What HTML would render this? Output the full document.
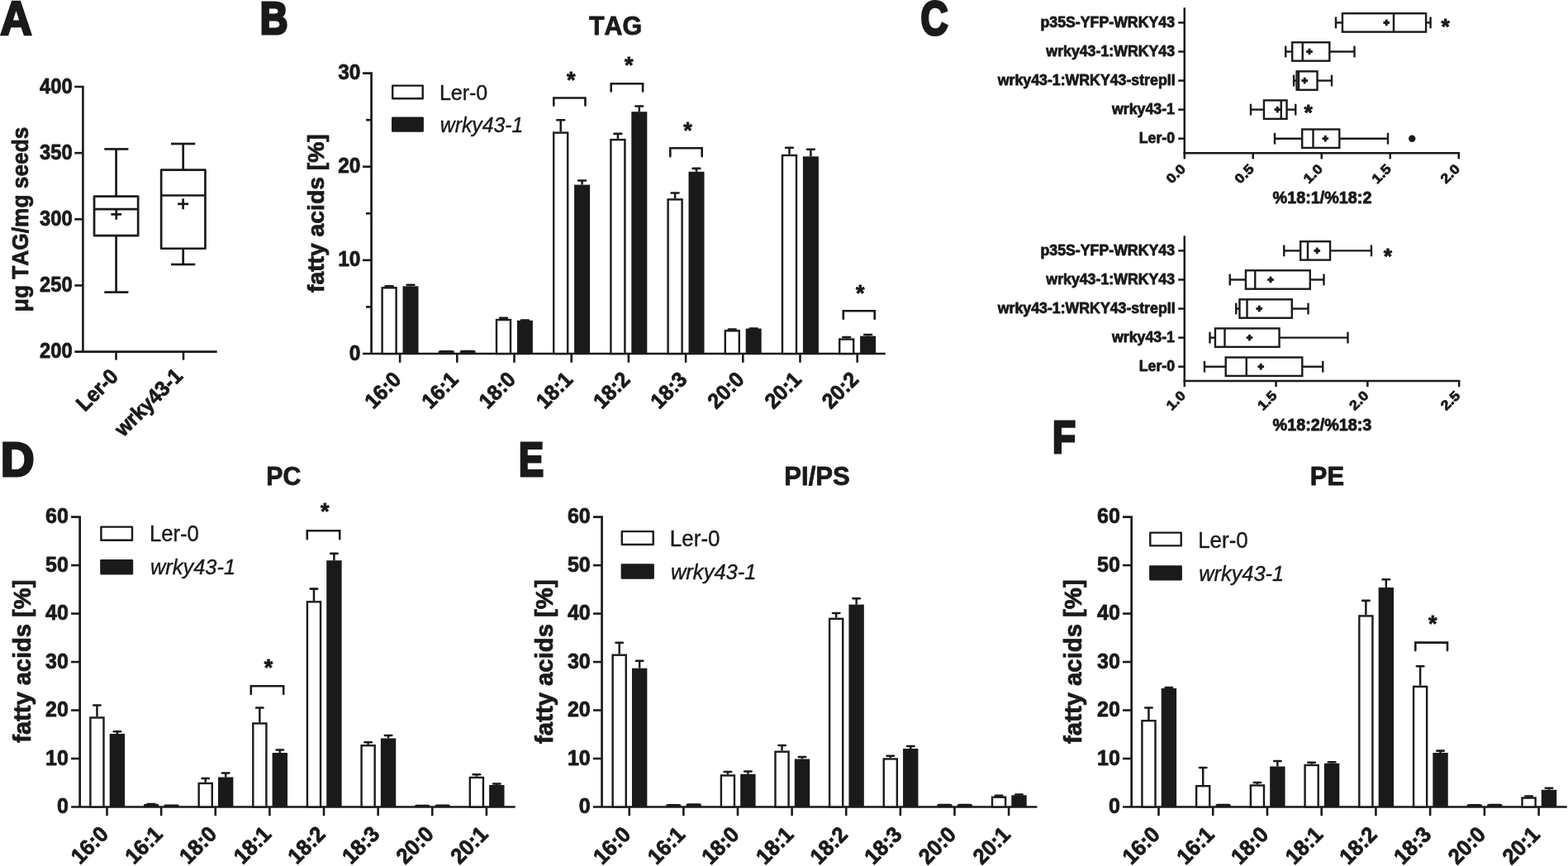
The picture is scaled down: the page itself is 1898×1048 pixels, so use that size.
<!DOCTYPE html>
<html><head><meta charset="utf-8"><title>Figure</title>
<style>html,body{margin:0;padding:0;background:#fff;}svg{display:block;}</style>
</head><body>
<svg width="1898" height="1048" viewBox="0 0 1898 1048" fill="#1a1a1a" stroke="#1a1a1a">
<g stroke="#1a1a1a" stroke-width="0.8" stroke-linejoin="round" font-family="'Liberation Sans', sans-serif" font-weight="bold" style="font-kerning:none">
<text x="0.17" y="42.3" font-size="57.7" textLength="38.54" lengthAdjust="spacingAndGlyphs" stroke-width="2.6" stroke-linejoin="miter">A</text>
<text x="314.67" y="41.1" font-size="56.4" textLength="33.75" lengthAdjust="spacingAndGlyphs" stroke-width="3.2" stroke-linejoin="miter">B</text>
<text x="1114.52" y="41.94" font-size="57.34" textLength="33.03" lengthAdjust="spacingAndGlyphs" stroke-width="3.2" stroke-linejoin="miter">C</text>
<text x="0.96" y="576.2" font-size="56.69" textLength="40.39" lengthAdjust="spacingAndGlyphs" stroke-width="3.2" stroke-linejoin="miter">D</text>
<text x="628.08" y="576.4" font-size="57.12" textLength="30.08" lengthAdjust="spacingAndGlyphs" stroke-width="3.2" stroke-linejoin="miter">E</text>
<text x="1274.03" y="548.4" font-size="56.4" textLength="28.05" lengthAdjust="spacingAndGlyphs" stroke-width="3.2" stroke-linejoin="miter">F</text>
<text x="48.02" y="112.5" font-size="25.3" textLength="39.55" lengthAdjust="spacingAndGlyphs">400</text>
<text x="48.02" y="192.65" font-size="25.3" textLength="39.55" lengthAdjust="spacingAndGlyphs">350</text>
<text x="48.02" y="272.8" font-size="25.3" textLength="39.55" lengthAdjust="spacingAndGlyphs">300</text>
<text x="48.02" y="352.95" font-size="25.3" textLength="39.55" lengthAdjust="spacingAndGlyphs">250</text>
<text x="48.02" y="433.1" font-size="25.3" textLength="39.55" lengthAdjust="spacingAndGlyphs">200</text>
<text x="0" y="0" font-size="28.2" textLength="223.53" lengthAdjust="spacingAndGlyphs" transform="translate(34,377.15) rotate(-90)">μg TAG/mg seeds</text>
<text x="0" y="0" font-size="25.8" textLength="59.11" lengthAdjust="spacingAndGlyphs" transform="translate(102.72,499.04) rotate(-45)">Ler-0</text>
<text x="0" y="0" font-size="25.8" textLength="103.49" lengthAdjust="spacingAndGlyphs" transform="translate(149.31,529.62) rotate(-45)">wrky43-1</text>
<text x="685.92" y="105.95" font-size="27" textLength="10.51" lengthAdjust="spacingAndGlyphs">*</text>
<text x="755.97" y="88.25" font-size="27" textLength="10.51" lengthAdjust="spacingAndGlyphs">*</text>
<text x="827.22" y="166.95" font-size="27" textLength="10.51" lengthAdjust="spacingAndGlyphs">*</text>
<text x="1035.97" y="364.05" font-size="27" textLength="10.51" lengthAdjust="spacingAndGlyphs">*</text>
<text x="712.96" y="42.39" font-size="31.5" textLength="64.13" lengthAdjust="spacingAndGlyphs">TAG</text>
<text x="422.82" y="435.61" font-size="25.6" textLength="13.58" lengthAdjust="spacingAndGlyphs">0</text>
<text x="409.24" y="322.47" font-size="25.6" textLength="27.17" lengthAdjust="spacingAndGlyphs">10</text>
<text x="409.24" y="209.34" font-size="25.6" textLength="27.17" lengthAdjust="spacingAndGlyphs">20</text>
<text x="409.24" y="96.21" font-size="25.6" textLength="27.17" lengthAdjust="spacingAndGlyphs">30</text>
<text x="0" y="0" font-size="28.1" textLength="191.77" lengthAdjust="spacingAndGlyphs" transform="translate(391.5,353.98) rotate(-90)">fatty acids [%]</text>
<text x="531.95" y="120.55" font-size="25.42" textLength="58.33" lengthAdjust="spacingAndGlyphs" font-weight="normal" stroke-width="0.4">Ler-0</text>
<text x="532.76" y="159.77" font-size="25.21" textLength="100.63" lengthAdjust="spacingAndGlyphs" font-weight="normal" stroke-width="0.4" font-style="italic">wrky43-1</text>
<text x="0" y="0" font-size="25.8" textLength="49.83" lengthAdjust="spacingAndGlyphs" transform="translate(451.91,496.06) rotate(-45)">16:0</text>
<text x="0" y="0" font-size="25.8" textLength="49.83" lengthAdjust="spacingAndGlyphs" transform="translate(521.11,496.06) rotate(-45)">16:1</text>
<text x="0" y="0" font-size="25.8" textLength="49.83" lengthAdjust="spacingAndGlyphs" transform="translate(590.31,496.06) rotate(-45)">18:0</text>
<text x="0" y="0" font-size="25.8" textLength="49.83" lengthAdjust="spacingAndGlyphs" transform="translate(659.51,496.06) rotate(-45)">18:1</text>
<text x="0" y="0" font-size="25.8" textLength="49.83" lengthAdjust="spacingAndGlyphs" transform="translate(728.71,496.06) rotate(-45)">18:2</text>
<text x="0" y="0" font-size="25.8" textLength="49.83" lengthAdjust="spacingAndGlyphs" transform="translate(797.91,496.06) rotate(-45)">18:3</text>
<text x="0" y="0" font-size="25.8" textLength="49.83" lengthAdjust="spacingAndGlyphs" transform="translate(867.11,496.06) rotate(-45)">20:0</text>
<text x="0" y="0" font-size="25.8" textLength="49.83" lengthAdjust="spacingAndGlyphs" transform="translate(936.31,496.06) rotate(-45)">20:1</text>
<text x="0" y="0" font-size="25.8" textLength="49.83" lengthAdjust="spacingAndGlyphs" transform="translate(1005.51,496.06) rotate(-45)">20:2</text>
<text x="1259.48" y="32.6" font-size="18" textLength="162.56" lengthAdjust="spacingAndGlyphs">p35S-YFP-WRKY43</text>
<text x="1266.35" y="67.68" font-size="18" textLength="155.69" lengthAdjust="spacingAndGlyphs">wrky43-1:WRKY43</text>
<text x="1207.78" y="102.76" font-size="18" textLength="214.8" lengthAdjust="spacingAndGlyphs">wrky43-1:WRKY43-strepII</text>
<text x="1346" y="137.84" font-size="18" textLength="75.9" lengthAdjust="spacingAndGlyphs">wrky43-1</text>
<text x="1378.77" y="172.92" font-size="18" textLength="43.36" lengthAdjust="spacingAndGlyphs">Ler-0</text>
<text x="0" y="0" font-size="16.2" textLength="25.22" lengthAdjust="spacingAndGlyphs" transform="translate(1418.23,223.11) rotate(-45)">0.0</text>
<text x="0" y="0" font-size="16.2" textLength="25.22" lengthAdjust="spacingAndGlyphs" transform="translate(1501.06,223.28) rotate(-45)">0.5</text>
<text x="0" y="0" font-size="16.2" textLength="25.22" lengthAdjust="spacingAndGlyphs" transform="translate(1584.23,223.11) rotate(-45)">1.0</text>
<text x="0" y="0" font-size="16.2" textLength="25.22" lengthAdjust="spacingAndGlyphs" transform="translate(1667.06,223.16) rotate(-45)">1.5</text>
<text x="0" y="0" font-size="16.2" textLength="25.22" lengthAdjust="spacingAndGlyphs" transform="translate(1750.23,223.11) rotate(-45)">2.0</text>
<text x="1540.61" y="246" font-size="19.6" textLength="119.78" lengthAdjust="spacingAndGlyphs">%18:1/%18:2</text>
<text x="1259.48" y="308.6" font-size="18" textLength="162.56" lengthAdjust="spacingAndGlyphs">p35S-YFP-WRKY43</text>
<text x="1266.35" y="343.68" font-size="18" textLength="155.69" lengthAdjust="spacingAndGlyphs">wrky43-1:WRKY43</text>
<text x="1207.78" y="378.76" font-size="18" textLength="214.8" lengthAdjust="spacingAndGlyphs">wrky43-1:WRKY43-strepII</text>
<text x="1346" y="413.84" font-size="18" textLength="75.9" lengthAdjust="spacingAndGlyphs">wrky43-1</text>
<text x="1378.77" y="448.92" font-size="18" textLength="43.36" lengthAdjust="spacingAndGlyphs">Ler-0</text>
<text x="0" y="0" font-size="16.2" textLength="25.22" lengthAdjust="spacingAndGlyphs" transform="translate(1418.23,497.41) rotate(-45)">1.0</text>
<text x="0" y="0" font-size="16.2" textLength="25.22" lengthAdjust="spacingAndGlyphs" transform="translate(1528.86,497.46) rotate(-45)">1.5</text>
<text x="0" y="0" font-size="16.2" textLength="25.22" lengthAdjust="spacingAndGlyphs" transform="translate(1639.83,497.41) rotate(-45)">2.0</text>
<text x="0" y="0" font-size="16.2" textLength="25.22" lengthAdjust="spacingAndGlyphs" transform="translate(1750.46,497.58) rotate(-45)">2.5</text>
<text x="1540.61" y="521.2" font-size="19.6" textLength="119.71" lengthAdjust="spacingAndGlyphs">%18:2/%18:3</text>
<text x="1744.62" y="41.2" font-size="26.5" textLength="10.31" lengthAdjust="spacingAndGlyphs">*</text>
<text x="1578.57" y="145.2" font-size="26.5" textLength="10.31" lengthAdjust="spacingAndGlyphs">*</text>
<text x="1674.82" y="318.5" font-size="26.5" textLength="10.31" lengthAdjust="spacingAndGlyphs">*</text>
<text x="68.91" y="984.28" font-size="26.1" textLength="13.92" lengthAdjust="spacingAndGlyphs">0</text>
<text x="54.99" y="925.8" font-size="26.1" textLength="27.84" lengthAdjust="spacingAndGlyphs">10</text>
<text x="54.99" y="867.31" font-size="26.1" textLength="27.84" lengthAdjust="spacingAndGlyphs">20</text>
<text x="54.99" y="808.83" font-size="26.1" textLength="27.84" lengthAdjust="spacingAndGlyphs">30</text>
<text x="54.99" y="750.35" font-size="26.1" textLength="27.84" lengthAdjust="spacingAndGlyphs">40</text>
<text x="54.99" y="691.86" font-size="26.1" textLength="27.84" lengthAdjust="spacingAndGlyphs">50</text>
<text x="54.99" y="633.38" font-size="26.1" textLength="27.84" lengthAdjust="spacingAndGlyphs">60</text>
<text x="322.28" y="587.4" font-size="31.4" textLength="41.95" lengthAdjust="spacingAndGlyphs">PC</text>
<text x="0" y="0" font-size="28.8" textLength="197.13" lengthAdjust="spacingAndGlyphs" transform="translate(37,898.8) rotate(-90)">fatty acids [%]</text>
<text x="180.89" y="655.34" font-size="27.12" textLength="60.01" lengthAdjust="spacingAndGlyphs" font-weight="normal" stroke-width="0.4">Ler-0</text>
<text x="181.93" y="695.4" font-size="25.53" textLength="103.11" lengthAdjust="spacingAndGlyphs" font-weight="normal" stroke-width="0.4" font-style="italic">wrky43-1</text>
<text x="0" y="0" font-size="26.5" textLength="50.92" lengthAdjust="spacingAndGlyphs" transform="translate(96.74,1046.93) rotate(-45)">16:0</text>
<text x="0" y="0" font-size="26.5" textLength="50.92" lengthAdjust="spacingAndGlyphs" transform="translate(162.37,1046.93) rotate(-45)">16:1</text>
<text x="0" y="0" font-size="26.5" textLength="50.92" lengthAdjust="spacingAndGlyphs" transform="translate(228,1046.93) rotate(-45)">18:0</text>
<text x="0" y="0" font-size="26.5" textLength="50.92" lengthAdjust="spacingAndGlyphs" transform="translate(293.63,1046.93) rotate(-45)">18:1</text>
<text x="0" y="0" font-size="26.5" textLength="50.92" lengthAdjust="spacingAndGlyphs" transform="translate(359.26,1046.93) rotate(-45)">18:2</text>
<text x="0" y="0" font-size="26.5" textLength="50.92" lengthAdjust="spacingAndGlyphs" transform="translate(424.89,1046.93) rotate(-45)">18:3</text>
<text x="0" y="0" font-size="26.5" textLength="50.92" lengthAdjust="spacingAndGlyphs" transform="translate(490.52,1046.93) rotate(-45)">20:0</text>
<text x="0" y="0" font-size="26.5" textLength="50.92" lengthAdjust="spacingAndGlyphs" transform="translate(556.15,1046.93) rotate(-45)">20:1</text>
<text x="319.72" y="817.05" font-size="27" textLength="10.51" lengthAdjust="spacingAndGlyphs">*</text>
<text x="388.12" y="628.45" font-size="27" textLength="10.51" lengthAdjust="spacingAndGlyphs">*</text>
<text x="700.81" y="984.28" font-size="26.1" textLength="13.92" lengthAdjust="spacingAndGlyphs">0</text>
<text x="686.89" y="925.8" font-size="26.1" textLength="27.84" lengthAdjust="spacingAndGlyphs">10</text>
<text x="686.89" y="867.31" font-size="26.1" textLength="27.84" lengthAdjust="spacingAndGlyphs">20</text>
<text x="686.89" y="808.83" font-size="26.1" textLength="27.84" lengthAdjust="spacingAndGlyphs">30</text>
<text x="686.89" y="750.35" font-size="26.1" textLength="27.84" lengthAdjust="spacingAndGlyphs">40</text>
<text x="686.89" y="691.86" font-size="26.1" textLength="27.84" lengthAdjust="spacingAndGlyphs">50</text>
<text x="686.89" y="633.38" font-size="26.1" textLength="27.84" lengthAdjust="spacingAndGlyphs">60</text>
<text x="949.32" y="587.4" font-size="31.4" textLength="79.49" lengthAdjust="spacingAndGlyphs">PI/PS</text>
<text x="0" y="0" font-size="28.8" textLength="198.55" lengthAdjust="spacingAndGlyphs" transform="translate(669.2,899.9) rotate(-90)">fatty acids [%]</text>
<text x="810.87" y="660.63" font-size="27.26" textLength="60.65" lengthAdjust="spacingAndGlyphs" font-weight="normal" stroke-width="0.4">Ler-0</text>
<text x="811.93" y="700.71" font-size="25.96" textLength="103.63" lengthAdjust="spacingAndGlyphs" font-weight="normal" stroke-width="0.4" font-style="italic">wrky43-1</text>
<text x="0" y="0" font-size="26.5" textLength="50.92" lengthAdjust="spacingAndGlyphs" transform="translate(729.09,1047.53) rotate(-45)">16:0</text>
<text x="0" y="0" font-size="26.5" textLength="50.92" lengthAdjust="spacingAndGlyphs" transform="translate(794.71,1047.53) rotate(-45)">16:1</text>
<text x="0" y="0" font-size="26.5" textLength="50.92" lengthAdjust="spacingAndGlyphs" transform="translate(860.33,1047.53) rotate(-45)">18:0</text>
<text x="0" y="0" font-size="26.5" textLength="50.92" lengthAdjust="spacingAndGlyphs" transform="translate(925.95,1047.53) rotate(-45)">18:1</text>
<text x="0" y="0" font-size="26.5" textLength="50.92" lengthAdjust="spacingAndGlyphs" transform="translate(991.57,1047.53) rotate(-45)">18:2</text>
<text x="0" y="0" font-size="26.5" textLength="50.92" lengthAdjust="spacingAndGlyphs" transform="translate(1057.19,1047.53) rotate(-45)">18:3</text>
<text x="0" y="0" font-size="26.5" textLength="50.92" lengthAdjust="spacingAndGlyphs" transform="translate(1122.81,1047.53) rotate(-45)">20:0</text>
<text x="0" y="0" font-size="26.5" textLength="50.92" lengthAdjust="spacingAndGlyphs" transform="translate(1188.43,1047.53) rotate(-45)">20:1</text>
<text x="1341.91" y="984.28" font-size="26.1" textLength="13.92" lengthAdjust="spacingAndGlyphs">0</text>
<text x="1327.99" y="925.8" font-size="26.1" textLength="27.84" lengthAdjust="spacingAndGlyphs">10</text>
<text x="1327.99" y="867.31" font-size="26.1" textLength="27.84" lengthAdjust="spacingAndGlyphs">20</text>
<text x="1327.99" y="808.83" font-size="26.1" textLength="27.84" lengthAdjust="spacingAndGlyphs">30</text>
<text x="1327.99" y="750.35" font-size="26.1" textLength="27.84" lengthAdjust="spacingAndGlyphs">40</text>
<text x="1327.99" y="691.86" font-size="26.1" textLength="27.84" lengthAdjust="spacingAndGlyphs">50</text>
<text x="1327.99" y="633.38" font-size="26.1" textLength="27.84" lengthAdjust="spacingAndGlyphs">60</text>
<text x="1585.83" y="587.4" font-size="31.4" textLength="41.22" lengthAdjust="spacingAndGlyphs">PE</text>
<text x="0" y="0" font-size="28.8" textLength="198.55" lengthAdjust="spacingAndGlyphs" transform="translate(1308.6,899.9) rotate(-90)">fatty acids [%]</text>
<text x="1450.17" y="662.63" font-size="27.54" textLength="60.54" lengthAdjust="spacingAndGlyphs" font-weight="normal" stroke-width="0.4">Ler-0</text>
<text x="1451.24" y="702.71" font-size="25.96" textLength="102.8" lengthAdjust="spacingAndGlyphs" font-weight="normal" stroke-width="0.4" font-style="italic">wrky43-1</text>
<text x="0" y="0" font-size="26.5" textLength="50.92" lengthAdjust="spacingAndGlyphs" transform="translate(1369.44,1047.53) rotate(-45)">16:0</text>
<text x="0" y="0" font-size="26.5" textLength="50.92" lengthAdjust="spacingAndGlyphs" transform="translate(1435.17,1047.53) rotate(-45)">16:1</text>
<text x="0" y="0" font-size="26.5" textLength="50.92" lengthAdjust="spacingAndGlyphs" transform="translate(1500.9,1047.53) rotate(-45)">18:0</text>
<text x="0" y="0" font-size="26.5" textLength="50.92" lengthAdjust="spacingAndGlyphs" transform="translate(1566.63,1047.53) rotate(-45)">18:1</text>
<text x="0" y="0" font-size="26.5" textLength="50.92" lengthAdjust="spacingAndGlyphs" transform="translate(1632.36,1047.53) rotate(-45)">18:2</text>
<text x="0" y="0" font-size="26.5" textLength="50.92" lengthAdjust="spacingAndGlyphs" transform="translate(1698.09,1047.53) rotate(-45)">18:3</text>
<text x="0" y="0" font-size="26.5" textLength="50.92" lengthAdjust="spacingAndGlyphs" transform="translate(1763.82,1047.53) rotate(-45)">20:0</text>
<text x="0" y="0" font-size="26.5" textLength="50.92" lengthAdjust="spacingAndGlyphs" transform="translate(1829.55,1047.53) rotate(-45)">20:1</text>
<text x="1729.12" y="764.45" font-size="27" textLength="10.51" lengthAdjust="spacingAndGlyphs">*</text>
</g>
<g fill="none">
<polyline points="90.3,105 100.4,105 100.4,425.6" stroke-width="2.6" fill="none"/>
<line x1="90.3" y1="185.15" x2="100.4" y2="185.15" stroke-width="2.6"/>
<line x1="90.3" y1="265.3" x2="100.4" y2="265.3" stroke-width="2.6"/>
<line x1="90.3" y1="345.45" x2="100.4" y2="345.45" stroke-width="2.6"/>
<line x1="90.3" y1="425.6" x2="262.7" y2="425.6" stroke-width="2.6"/>
<line x1="140.5" y1="425.6" x2="140.5" y2="435.6" stroke-width="2.6"/>
<line x1="222" y1="425.6" x2="222" y2="435.6" stroke-width="2.6"/>
<line x1="140.6" y1="180.4" x2="140.6" y2="237.6" stroke-width="2.7"/>
<line x1="140.6" y1="285.2" x2="140.6" y2="353.6" stroke-width="2.7"/>
<line x1="126.3" y1="180.4" x2="155.4" y2="180.4" stroke-width="2.7"/>
<line x1="126.3" y1="353.6" x2="155.4" y2="353.6" stroke-width="2.7"/>
<rect x="114.05" y="237.6" width="53.1" height="47.6" stroke-width="2.7" fill="none" stroke-linejoin="round"/>
<line x1="114.05" y1="253.05" x2="167.15" y2="253.05" stroke-width="2.7"/>
<line x1="134.4" y1="259.4" x2="147.1" y2="259.4" stroke-width="2.7"/>
<line x1="140.75" y1="253.05" x2="140.75" y2="265.75" stroke-width="2.7"/>
<line x1="221.7" y1="174" x2="221.7" y2="205.7" stroke-width="2.7"/>
<line x1="221.7" y1="300.75" x2="221.7" y2="320" stroke-width="2.7"/>
<line x1="207" y1="174" x2="236.3" y2="174" stroke-width="2.7"/>
<line x1="207" y1="320" x2="236.3" y2="320" stroke-width="2.7"/>
<rect x="195.15" y="205.7" width="53.3" height="95.05" stroke-width="2.7" fill="none" stroke-linejoin="round"/>
<line x1="195.15" y1="236.5" x2="248.45" y2="236.5" stroke-width="2.7"/>
<line x1="215.1" y1="246.8" x2="228.1" y2="246.8" stroke-width="2.7"/>
<line x1="221.6" y1="240.3" x2="221.6" y2="253.3" stroke-width="2.7"/>
<polyline points="439,88.6 449.55,88.6 449.55,428" stroke-width="2.7" fill="none"/>
<line x1="439" y1="314.87" x2="449.55" y2="314.87" stroke-width="2.6"/>
<line x1="439" y1="201.73" x2="449.55" y2="201.73" stroke-width="2.6"/>
<line x1="443" y1="371.43" x2="449.55" y2="371.43" stroke-width="2.6"/>
<line x1="443" y1="258.3" x2="449.55" y2="258.3" stroke-width="2.6"/>
<line x1="443" y1="145.17" x2="449.55" y2="145.17" stroke-width="2.6"/>
<line x1="439" y1="428" x2="1071.75" y2="428" stroke-width="2.7"/>
<line x1="484.1" y1="428" x2="484.1" y2="438.75" stroke-width="2.6"/>
<line x1="553.3" y1="428" x2="553.3" y2="438.75" stroke-width="2.6"/>
<line x1="622.5" y1="428" x2="622.5" y2="438.75" stroke-width="2.6"/>
<line x1="691.7" y1="428" x2="691.7" y2="438.75" stroke-width="2.6"/>
<line x1="760.9" y1="428" x2="760.9" y2="438.75" stroke-width="2.6"/>
<line x1="830.1" y1="428" x2="830.1" y2="438.75" stroke-width="2.6"/>
<line x1="899.3" y1="428" x2="899.3" y2="438.75" stroke-width="2.6"/>
<line x1="968.5" y1="428" x2="968.5" y2="438.75" stroke-width="2.6"/>
<line x1="1037.7" y1="428" x2="1037.7" y2="438.75" stroke-width="2.6"/>
<line x1="471.1" y1="347.1" x2="471.1" y2="346.2" stroke-width="2.5"/>
<line x1="466.7" y1="346.2" x2="475.5" y2="346.2" stroke-width="2.6" stroke-linecap="round"/>
<line x1="497" y1="346.35" x2="497" y2="344.8" stroke-width="2.5"/>
<line x1="492.6" y1="344.8" x2="501.4" y2="344.8" stroke-width="2.6" stroke-linecap="round"/>
<rect x="462.6" y="348.3" width="17" height="79.7" stroke-width="2.4" fill="#fff"/>
<rect x="487.5" y="346.35" width="19" height="81.65" fill="#1a1a1a" stroke="none"/>
<rect x="530.6" y="424" width="19.4" height="4" rx="3" ry="2" fill="#1a1a1a" stroke="none"/>
<rect x="556.7" y="423.7" width="19" height="4.3" rx="3" ry="2" fill="#1a1a1a" stroke="none"/>
<line x1="609.5" y1="385.85" x2="609.5" y2="384.75" stroke-width="2.5"/>
<line x1="605.1" y1="384.75" x2="613.9" y2="384.75" stroke-width="2.6" stroke-linecap="round"/>
<line x1="635.4" y1="387.85" x2="635.4" y2="387.5" stroke-width="2.5"/>
<line x1="631" y1="387.5" x2="639.8" y2="387.5" stroke-width="2.6" stroke-linecap="round"/>
<rect x="601" y="387.05" width="17" height="40.95" stroke-width="2.4" fill="#fff"/>
<rect x="625.9" y="387.85" width="19" height="40.15" fill="#1a1a1a" stroke="none"/>
<line x1="678.7" y1="159.4" x2="678.7" y2="145.2" stroke-width="2.5"/>
<line x1="674.3" y1="145.2" x2="683.1" y2="145.2" stroke-width="2.6" stroke-linecap="round"/>
<line x1="704.6" y1="223.6" x2="704.6" y2="218.5" stroke-width="2.5"/>
<line x1="700.2" y1="218.5" x2="709" y2="218.5" stroke-width="2.6" stroke-linecap="round"/>
<rect x="670.2" y="160.6" width="17" height="267.4" stroke-width="2.4" fill="#fff"/>
<rect x="695.1" y="223.6" width="19" height="204.4" fill="#1a1a1a" stroke="none"/>
<line x1="747.9" y1="167.9" x2="747.9" y2="161.9" stroke-width="2.5"/>
<line x1="743.5" y1="161.9" x2="752.3" y2="161.9" stroke-width="2.6" stroke-linecap="round"/>
<line x1="773.8" y1="135.2" x2="773.8" y2="128.5" stroke-width="2.5"/>
<line x1="769.4" y1="128.5" x2="778.2" y2="128.5" stroke-width="2.6" stroke-linecap="round"/>
<rect x="739.4" y="169.1" width="17" height="258.9" stroke-width="2.4" fill="#fff"/>
<rect x="764.3" y="135.2" width="19" height="292.8" fill="#1a1a1a" stroke="none"/>
<line x1="817.1" y1="240.2" x2="817.1" y2="233.5" stroke-width="2.5"/>
<line x1="812.7" y1="233.5" x2="821.5" y2="233.5" stroke-width="2.6" stroke-linecap="round"/>
<line x1="843" y1="207.8" x2="843" y2="203.9" stroke-width="2.5"/>
<line x1="838.6" y1="203.9" x2="847.4" y2="203.9" stroke-width="2.6" stroke-linecap="round"/>
<rect x="808.6" y="241.4" width="17" height="186.6" stroke-width="2.4" fill="#fff"/>
<rect x="833.5" y="207.8" width="19" height="220.2" fill="#1a1a1a" stroke="none"/>
<line x1="886.3" y1="399.1" x2="886.3" y2="398.5" stroke-width="2.5"/>
<line x1="881.9" y1="398.5" x2="890.7" y2="398.5" stroke-width="2.6" stroke-linecap="round"/>
<line x1="912.2" y1="397.6" x2="912.2" y2="397.5" stroke-width="2.5"/>
<line x1="907.8" y1="397.5" x2="916.6" y2="397.5" stroke-width="2.6" stroke-linecap="round"/>
<rect x="877.8" y="400.3" width="17" height="27.7" stroke-width="2.4" fill="#fff"/>
<rect x="902.7" y="397.6" width="19" height="30.4" fill="#1a1a1a" stroke="none"/>
<line x1="955.5" y1="186.8" x2="955.5" y2="178.7" stroke-width="2.5"/>
<line x1="951.1" y1="178.7" x2="959.9" y2="178.7" stroke-width="2.6" stroke-linecap="round"/>
<line x1="981.4" y1="189.3" x2="981.4" y2="180.8" stroke-width="2.5"/>
<line x1="977" y1="180.8" x2="985.8" y2="180.8" stroke-width="2.6" stroke-linecap="round"/>
<rect x="947" y="188" width="17" height="240" stroke-width="2.4" fill="#fff"/>
<rect x="971.9" y="189.3" width="19" height="238.7" fill="#1a1a1a" stroke="none"/>
<line x1="1024.7" y1="409.35" x2="1024.7" y2="408" stroke-width="2.5"/>
<line x1="1020.3" y1="408" x2="1029.1" y2="408" stroke-width="2.6" stroke-linecap="round"/>
<line x1="1050.6" y1="406.6" x2="1050.6" y2="405" stroke-width="2.5"/>
<line x1="1046.2" y1="405" x2="1055" y2="405" stroke-width="2.6" stroke-linecap="round"/>
<rect x="1016.2" y="410.55" width="17" height="17.45" stroke-width="2.4" fill="#fff"/>
<rect x="1041.1" y="406.6" width="19" height="21.4" fill="#1a1a1a" stroke="none"/>
<polyline points="670.3,127.6 670.3,118.5 708.45,118.5 708.45,127.6" stroke-width="2.6" fill="none" stroke-linecap="round" stroke-linejoin="miter"/>
<polyline points="739.7,110.4 739.7,101.3 778.1,101.3 778.1,110.4" stroke-width="2.6" fill="none" stroke-linecap="round" stroke-linejoin="miter"/>
<polyline points="811.3,189.3 811.3,179.3 849.7,179.3 849.7,189.3" stroke-width="2.6" fill="none" stroke-linecap="round" stroke-linejoin="miter"/>
<polyline points="1020.8,385.85 1020.8,376.25 1058.7,376.25 1058.7,385.85" stroke-width="2.6" fill="none" stroke-linecap="round" stroke-linejoin="miter"/>
<rect x="475.2" y="103.6" width="36.5" height="15.6" stroke-width="2.4" fill="#fff" stroke-linejoin="round"/>
<rect x="474" y="141.5" width="38.9" height="18.2" rx="1.3" fill="#1a1a1a" stroke="none"/>
<polyline points="1433.75,9.3 1433.75,192.4" stroke-width="2.5" fill="none"/>
<line x1="1432.5" y1="185.2" x2="1767" y2="185.2" stroke-width="2.5"/>
<line x1="1516.75" y1="185.2" x2="1516.75" y2="192.4" stroke-width="2.5"/>
<line x1="1599.75" y1="185.2" x2="1599.75" y2="192.4" stroke-width="2.5"/>
<line x1="1682.75" y1="185.2" x2="1682.75" y2="192.4" stroke-width="2.5"/>
<line x1="1765.75" y1="185.2" x2="1765.75" y2="192.4" stroke-width="2.5"/>
<line x1="1426.2" y1="27.4" x2="1433.75" y2="27.4" stroke-width="2.5"/>
<line x1="1426.2" y1="62.48" x2="1433.75" y2="62.48" stroke-width="2.5"/>
<line x1="1426.2" y1="97.56" x2="1433.75" y2="97.56" stroke-width="2.5"/>
<line x1="1426.2" y1="132.64" x2="1433.75" y2="132.64" stroke-width="2.5"/>
<line x1="1426.2" y1="167.72" x2="1433.75" y2="167.72" stroke-width="2.5"/>
<polyline points="1433.75,285.3 1433.75,468.2" stroke-width="2.5" fill="none"/>
<line x1="1432.5" y1="461" x2="1767.4" y2="461" stroke-width="2.5"/>
<line x1="1544.55" y1="461" x2="1544.55" y2="468.2" stroke-width="2.5"/>
<line x1="1655.35" y1="461" x2="1655.35" y2="468.2" stroke-width="2.5"/>
<line x1="1766.15" y1="461" x2="1766.15" y2="468.2" stroke-width="2.5"/>
<line x1="1426.2" y1="303.4" x2="1433.75" y2="303.4" stroke-width="2.5"/>
<line x1="1426.2" y1="338.48" x2="1433.75" y2="338.48" stroke-width="2.5"/>
<line x1="1426.2" y1="373.56" x2="1433.75" y2="373.56" stroke-width="2.5"/>
<line x1="1426.2" y1="408.64" x2="1433.75" y2="408.64" stroke-width="2.5"/>
<line x1="1426.2" y1="443.72" x2="1433.75" y2="443.72" stroke-width="2.5"/>
<line x1="1617" y1="27.4" x2="1624.95" y2="27.4" stroke-width="2.4"/>
<line x1="1726.1" y1="27.4" x2="1731.6" y2="27.4" stroke-width="2.4"/>
<line x1="1617" y1="20.5" x2="1617" y2="34.3" stroke-width="2.4"/>
<line x1="1731.6" y1="20.5" x2="1731.6" y2="34.3" stroke-width="2.4"/>
<rect x="1624.95" y="16.2" width="101.15" height="22.4" stroke-width="2.4" fill="none"/>
<line x1="1687" y1="16.2" x2="1687" y2="38.6" stroke-width="2.4"/>
<line x1="1674.45" y1="27.4" x2="1682.05" y2="27.4" stroke-width="3"/>
<line x1="1678.25" y1="23.6" x2="1678.25" y2="31.2" stroke-width="3"/>
<line x1="1556.25" y1="62.48" x2="1564.2" y2="62.48" stroke-width="2.4"/>
<line x1="1609.3" y1="62.48" x2="1639.5" y2="62.48" stroke-width="2.4"/>
<line x1="1556.25" y1="55.58" x2="1556.25" y2="69.38" stroke-width="2.4"/>
<line x1="1639.5" y1="55.58" x2="1639.5" y2="69.38" stroke-width="2.4"/>
<rect x="1564.2" y="51.28" width="45.1" height="22.4" stroke-width="2.4" fill="none"/>
<line x1="1576.75" y1="51.28" x2="1576.75" y2="73.68" stroke-width="2.4"/>
<line x1="1581.2" y1="62.48" x2="1588.8" y2="62.48" stroke-width="3"/>
<line x1="1585" y1="58.68" x2="1585" y2="66.28" stroke-width="3"/>
<line x1="1566.1" y1="97.56" x2="1569.6" y2="97.56" stroke-width="2.4"/>
<line x1="1594.5" y1="97.56" x2="1612" y2="97.56" stroke-width="2.4"/>
<line x1="1566.1" y1="90.66" x2="1566.1" y2="104.46" stroke-width="2.4"/>
<line x1="1612" y1="90.66" x2="1612" y2="104.46" stroke-width="2.4"/>
<rect x="1569.6" y="86.36" width="24.9" height="22.4" stroke-width="2.4" fill="none"/>
<line x1="1572" y1="86.36" x2="1572" y2="108.76" stroke-width="2.4"/>
<line x1="1575.45" y1="97.56" x2="1583.05" y2="97.56" stroke-width="3"/>
<line x1="1579.25" y1="93.76" x2="1579.25" y2="101.36" stroke-width="3"/>
<line x1="1514" y1="132.64" x2="1529.95" y2="132.64" stroke-width="2.4"/>
<line x1="1557.55" y1="132.64" x2="1568.25" y2="132.64" stroke-width="2.4"/>
<line x1="1514" y1="125.74" x2="1514" y2="139.54" stroke-width="2.4"/>
<line x1="1568.25" y1="125.74" x2="1568.25" y2="139.54" stroke-width="2.4"/>
<rect x="1529.95" y="121.44" width="27.6" height="22.4" stroke-width="2.4" fill="none"/>
<line x1="1550.75" y1="121.44" x2="1550.75" y2="143.84" stroke-width="2.4"/>
<line x1="1542.45" y1="132.64" x2="1550.05" y2="132.64" stroke-width="3"/>
<line x1="1546.25" y1="128.84" x2="1546.25" y2="136.44" stroke-width="3"/>
<line x1="1543" y1="167.72" x2="1576.2" y2="167.72" stroke-width="2.4"/>
<line x1="1621.3" y1="167.72" x2="1680" y2="167.72" stroke-width="2.4"/>
<line x1="1543" y1="160.82" x2="1543" y2="174.62" stroke-width="2.4"/>
<line x1="1680" y1="160.82" x2="1680" y2="174.62" stroke-width="2.4"/>
<rect x="1576.2" y="156.52" width="45.1" height="22.4" stroke-width="2.4" fill="none"/>
<line x1="1589.5" y1="156.52" x2="1589.5" y2="178.92" stroke-width="2.4"/>
<line x1="1600.45" y1="167.72" x2="1608.05" y2="167.72" stroke-width="3"/>
<line x1="1604.25" y1="163.92" x2="1604.25" y2="171.52" stroke-width="3"/>
<line x1="1554.25" y1="303.4" x2="1574.2" y2="303.4" stroke-width="2.4"/>
<line x1="1610.05" y1="303.4" x2="1660" y2="303.4" stroke-width="2.4"/>
<line x1="1554.25" y1="296.5" x2="1554.25" y2="310.3" stroke-width="2.4"/>
<line x1="1660" y1="296.5" x2="1660" y2="310.3" stroke-width="2.4"/>
<rect x="1574.2" y="292.2" width="35.85" height="22.4" stroke-width="2.4" fill="none"/>
<line x1="1583" y1="292.2" x2="1583" y2="314.6" stroke-width="2.4"/>
<line x1="1590.45" y1="303.4" x2="1598.05" y2="303.4" stroke-width="3"/>
<line x1="1594.25" y1="299.6" x2="1594.25" y2="307.2" stroke-width="3"/>
<line x1="1488.75" y1="338.48" x2="1507.95" y2="338.48" stroke-width="2.4"/>
<line x1="1585.8" y1="338.48" x2="1602.5" y2="338.48" stroke-width="2.4"/>
<line x1="1488.75" y1="331.58" x2="1488.75" y2="345.38" stroke-width="2.4"/>
<line x1="1602.5" y1="331.58" x2="1602.5" y2="345.38" stroke-width="2.4"/>
<rect x="1507.95" y="327.28" width="77.85" height="22.4" stroke-width="2.4" fill="none"/>
<line x1="1519.25" y1="327.28" x2="1519.25" y2="349.68" stroke-width="2.4"/>
<line x1="1534.2" y1="338.48" x2="1541.8" y2="338.48" stroke-width="3"/>
<line x1="1538" y1="334.68" x2="1538" y2="342.28" stroke-width="3"/>
<line x1="1496.25" y1="373.56" x2="1500.45" y2="373.56" stroke-width="2.4"/>
<line x1="1563.8" y1="373.56" x2="1583.5" y2="373.56" stroke-width="2.4"/>
<line x1="1496.25" y1="366.66" x2="1496.25" y2="380.46" stroke-width="2.4"/>
<line x1="1583.5" y1="366.66" x2="1583.5" y2="380.46" stroke-width="2.4"/>
<rect x="1500.45" y="362.36" width="63.35" height="22.4" stroke-width="2.4" fill="none"/>
<line x1="1509.5" y1="362.36" x2="1509.5" y2="384.76" stroke-width="2.4"/>
<line x1="1520.45" y1="373.56" x2="1528.05" y2="373.56" stroke-width="3"/>
<line x1="1524.25" y1="369.76" x2="1524.25" y2="377.36" stroke-width="3"/>
<line x1="1464.5" y1="408.64" x2="1470.95" y2="408.64" stroke-width="2.4"/>
<line x1="1548.55" y1="408.64" x2="1631.5" y2="408.64" stroke-width="2.4"/>
<line x1="1464.5" y1="401.74" x2="1464.5" y2="415.54" stroke-width="2.4"/>
<line x1="1631.5" y1="401.74" x2="1631.5" y2="415.54" stroke-width="2.4"/>
<rect x="1470.95" y="397.44" width="77.6" height="22.4" stroke-width="2.4" fill="none"/>
<line x1="1482.5" y1="397.44" x2="1482.5" y2="419.84" stroke-width="2.4"/>
<line x1="1508.7" y1="408.64" x2="1516.3" y2="408.64" stroke-width="3"/>
<line x1="1512.5" y1="404.84" x2="1512.5" y2="412.44" stroke-width="3"/>
<line x1="1458" y1="443.72" x2="1483.7" y2="443.72" stroke-width="2.4"/>
<line x1="1576.3" y1="443.72" x2="1601.25" y2="443.72" stroke-width="2.4"/>
<line x1="1458" y1="436.82" x2="1458" y2="450.62" stroke-width="2.4"/>
<line x1="1601.25" y1="436.82" x2="1601.25" y2="450.62" stroke-width="2.4"/>
<rect x="1483.7" y="432.52" width="92.6" height="22.4" stroke-width="2.4" fill="none"/>
<line x1="1508.75" y1="432.52" x2="1508.75" y2="454.92" stroke-width="2.4"/>
<line x1="1522.45" y1="443.72" x2="1530.05" y2="443.72" stroke-width="3"/>
<line x1="1526.25" y1="439.92" x2="1526.25" y2="447.52" stroke-width="3"/>
<circle cx="1709.25" cy="167.72" r="4.2" fill="#1a1a1a" stroke="none"/>
<polyline points="86.05,625.6 96.65,625.6 96.65,976.5" stroke-width="2.7" fill="none"/>
<line x1="86.05" y1="918.02" x2="96.65" y2="918.02" stroke-width="2.6"/>
<line x1="86.05" y1="859.53" x2="96.65" y2="859.53" stroke-width="2.6"/>
<line x1="86.05" y1="801.05" x2="96.65" y2="801.05" stroke-width="2.6"/>
<line x1="86.05" y1="742.57" x2="96.65" y2="742.57" stroke-width="2.6"/>
<line x1="86.05" y1="684.08" x2="96.65" y2="684.08" stroke-width="2.6"/>
<line x1="86.05" y1="976.5" x2="623.75" y2="976.5" stroke-width="2.7"/>
<line x1="129.5" y1="976.5" x2="129.5" y2="987.25" stroke-width="2.6"/>
<line x1="195.13" y1="976.5" x2="195.13" y2="987.25" stroke-width="2.6"/>
<line x1="260.76" y1="976.5" x2="260.76" y2="987.25" stroke-width="2.6"/>
<line x1="326.39" y1="976.5" x2="326.39" y2="987.25" stroke-width="2.6"/>
<line x1="392.02" y1="976.5" x2="392.02" y2="987.25" stroke-width="2.6"/>
<line x1="457.65" y1="976.5" x2="457.65" y2="987.25" stroke-width="2.6"/>
<line x1="523.28" y1="976.5" x2="523.28" y2="987.25" stroke-width="2.6"/>
<line x1="588.91" y1="976.5" x2="588.91" y2="987.25" stroke-width="2.6"/>
<line x1="117.45" y1="867.25" x2="117.45" y2="853.5" stroke-width="2.5"/>
<line x1="113.25" y1="853.5" x2="121.65" y2="853.5" stroke-width="2.6" stroke-linecap="round"/>
<line x1="141.9" y1="888" x2="141.9" y2="885.25" stroke-width="2.5"/>
<line x1="137.7" y1="885.25" x2="146.1" y2="885.25" stroke-width="2.6" stroke-linecap="round"/>
<rect x="109.4" y="868.45" width="16.1" height="108.05" stroke-width="2.4" fill="#fff"/>
<rect x="132.7" y="888" width="18.4" height="88.5" fill="#1a1a1a" stroke="none"/>
<line x1="183.08" y1="972.8" x2="183.08" y2="973.1" stroke-width="2.5"/>
<line x1="178.88" y1="973.1" x2="187.28" y2="973.1" stroke-width="2.6" stroke-linecap="round"/>
<rect x="173.83" y="972.8" width="18.5" height="3.7" rx="3" ry="2" fill="#1a1a1a" stroke="none"/>
<rect x="198.33" y="973.6" width="18.4" height="2.9" rx="3" ry="2" fill="#1a1a1a" stroke="none"/>
<line x1="248.71" y1="946.75" x2="248.71" y2="942" stroke-width="2.5"/>
<line x1="244.51" y1="942" x2="252.91" y2="942" stroke-width="2.6" stroke-linecap="round"/>
<line x1="273.16" y1="940.5" x2="273.16" y2="935.5" stroke-width="2.5"/>
<line x1="268.96" y1="935.5" x2="277.36" y2="935.5" stroke-width="2.6" stroke-linecap="round"/>
<rect x="240.66" y="947.95" width="16.1" height="28.55" stroke-width="2.4" fill="#fff"/>
<rect x="263.96" y="940.5" width="18.4" height="36" fill="#1a1a1a" stroke="none"/>
<line x1="314.34" y1="874.25" x2="314.34" y2="856.5" stroke-width="2.5"/>
<line x1="310.14" y1="856.5" x2="318.54" y2="856.5" stroke-width="2.6" stroke-linecap="round"/>
<line x1="338.79" y1="911" x2="338.79" y2="907.5" stroke-width="2.5"/>
<line x1="334.59" y1="907.5" x2="342.99" y2="907.5" stroke-width="2.6" stroke-linecap="round"/>
<rect x="306.29" y="875.45" width="16.1" height="101.05" stroke-width="2.4" fill="#fff"/>
<rect x="329.59" y="911" width="18.4" height="65.5" fill="#1a1a1a" stroke="none"/>
<line x1="379.97" y1="727.1" x2="379.97" y2="712.6" stroke-width="2.5"/>
<line x1="375.77" y1="712.6" x2="384.17" y2="712.6" stroke-width="2.6" stroke-linecap="round"/>
<line x1="404.42" y1="678.2" x2="404.42" y2="669.9" stroke-width="2.5"/>
<line x1="400.22" y1="669.9" x2="408.62" y2="669.9" stroke-width="2.6" stroke-linecap="round"/>
<rect x="371.92" y="728.3" width="16.1" height="248.2" stroke-width="2.4" fill="#fff"/>
<rect x="395.22" y="678.2" width="18.4" height="298.3" fill="#1a1a1a" stroke="none"/>
<line x1="445.6" y1="901" x2="445.6" y2="898.25" stroke-width="2.5"/>
<line x1="441.4" y1="898.25" x2="449.8" y2="898.25" stroke-width="2.6" stroke-linecap="round"/>
<line x1="470.05" y1="893.5" x2="470.05" y2="890" stroke-width="2.5"/>
<line x1="465.85" y1="890" x2="474.25" y2="890" stroke-width="2.6" stroke-linecap="round"/>
<rect x="437.55" y="902.2" width="16.1" height="74.3" stroke-width="2.4" fill="#fff"/>
<rect x="460.85" y="893.5" width="18.4" height="83" fill="#1a1a1a" stroke="none"/>
<rect x="501.98" y="973.8" width="18.5" height="2.7" rx="3" ry="2" fill="#1a1a1a" stroke="none"/>
<rect x="526.48" y="973.6" width="18.4" height="2.9" rx="3" ry="2" fill="#1a1a1a" stroke="none"/>
<line x1="576.86" y1="939.75" x2="576.86" y2="937.25" stroke-width="2.5"/>
<line x1="572.66" y1="937.25" x2="581.06" y2="937.25" stroke-width="2.6" stroke-linecap="round"/>
<line x1="601.31" y1="950" x2="601.31" y2="948.5" stroke-width="2.5"/>
<line x1="597.11" y1="948.5" x2="605.51" y2="948.5" stroke-width="2.6" stroke-linecap="round"/>
<rect x="568.81" y="940.95" width="16.1" height="35.55" stroke-width="2.4" fill="#fff"/>
<rect x="592.11" y="950" width="18.4" height="26.5" fill="#1a1a1a" stroke="none"/>
<rect x="122.4" y="637.6" width="37.6" height="16.1" stroke-width="2.4" fill="#fff" stroke-linejoin="round"/>
<rect x="121.2" y="677" width="40" height="18.4" rx="1.3" fill="#1a1a1a" stroke="none"/>
<polyline points="303.8,839.85 303.8,830.25 343.2,830.25 343.2,839.85" stroke-width="2.6" fill="none" stroke-linecap="round" stroke-linejoin="miter"/>
<polyline points="371.8,652.2 371.8,642.2 411.2,642.2 411.2,652.2" stroke-width="2.6" fill="none" stroke-linecap="round" stroke-linejoin="miter"/>
<polyline points="717.95,625.6 728.55,625.6 728.55,976.5" stroke-width="2.7" fill="none"/>
<line x1="717.95" y1="918.02" x2="728.55" y2="918.02" stroke-width="2.6"/>
<line x1="717.95" y1="859.53" x2="728.55" y2="859.53" stroke-width="2.6"/>
<line x1="717.95" y1="801.05" x2="728.55" y2="801.05" stroke-width="2.6"/>
<line x1="717.95" y1="742.57" x2="728.55" y2="742.57" stroke-width="2.6"/>
<line x1="717.95" y1="684.08" x2="728.55" y2="684.08" stroke-width="2.6"/>
<line x1="717.95" y1="976.5" x2="1255.4" y2="976.5" stroke-width="2.7"/>
<line x1="761.75" y1="976.5" x2="761.75" y2="987.25" stroke-width="2.6"/>
<line x1="827.37" y1="976.5" x2="827.37" y2="987.25" stroke-width="2.6"/>
<line x1="892.99" y1="976.5" x2="892.99" y2="987.25" stroke-width="2.6"/>
<line x1="958.61" y1="976.5" x2="958.61" y2="987.25" stroke-width="2.6"/>
<line x1="1024.23" y1="976.5" x2="1024.23" y2="987.25" stroke-width="2.6"/>
<line x1="1089.85" y1="976.5" x2="1089.85" y2="987.25" stroke-width="2.6"/>
<line x1="1155.47" y1="976.5" x2="1155.47" y2="987.25" stroke-width="2.6"/>
<line x1="1221.09" y1="976.5" x2="1221.09" y2="987.25" stroke-width="2.6"/>
<line x1="749.7" y1="791.5" x2="749.7" y2="777.8" stroke-width="2.5"/>
<line x1="745.5" y1="777.8" x2="753.9" y2="777.8" stroke-width="2.6" stroke-linecap="round"/>
<line x1="774.15" y1="808.7" x2="774.15" y2="799.7" stroke-width="2.5"/>
<line x1="769.95" y1="799.7" x2="778.35" y2="799.7" stroke-width="2.6" stroke-linecap="round"/>
<rect x="741.65" y="792.7" width="16.1" height="183.8" stroke-width="2.4" fill="#fff"/>
<rect x="764.95" y="808.7" width="18.4" height="167.8" fill="#1a1a1a" stroke="none"/>
<rect x="806.07" y="973.1" width="18.5" height="3.4" rx="3" ry="2" fill="#1a1a1a" stroke="none"/>
<rect x="830.57" y="972.3" width="18.4" height="4.2" rx="3" ry="2" fill="#1a1a1a" stroke="none"/>
<line x1="880.94" y1="937.25" x2="880.94" y2="934" stroke-width="2.5"/>
<line x1="876.74" y1="934" x2="885.14" y2="934" stroke-width="2.6" stroke-linecap="round"/>
<line x1="905.39" y1="936.75" x2="905.39" y2="933.5" stroke-width="2.5"/>
<line x1="901.19" y1="933.5" x2="909.59" y2="933.5" stroke-width="2.6" stroke-linecap="round"/>
<rect x="872.89" y="938.45" width="16.1" height="38.05" stroke-width="2.4" fill="#fff"/>
<rect x="896.19" y="936.75" width="18.4" height="39.75" fill="#1a1a1a" stroke="none"/>
<line x1="946.56" y1="908.5" x2="946.56" y2="902" stroke-width="2.5"/>
<line x1="942.36" y1="902" x2="950.76" y2="902" stroke-width="2.6" stroke-linecap="round"/>
<line x1="971.01" y1="918.5" x2="971.01" y2="916" stroke-width="2.5"/>
<line x1="966.81" y1="916" x2="975.21" y2="916" stroke-width="2.6" stroke-linecap="round"/>
<rect x="938.51" y="909.7" width="16.1" height="66.8" stroke-width="2.4" fill="#fff"/>
<rect x="961.81" y="918.5" width="18.4" height="58" fill="#1a1a1a" stroke="none"/>
<line x1="1012.18" y1="747.6" x2="1012.18" y2="742" stroke-width="2.5"/>
<line x1="1007.98" y1="742" x2="1016.38" y2="742" stroke-width="2.6" stroke-linecap="round"/>
<line x1="1036.63" y1="731.6" x2="1036.63" y2="724.3" stroke-width="2.5"/>
<line x1="1032.43" y1="724.3" x2="1040.83" y2="724.3" stroke-width="2.6" stroke-linecap="round"/>
<rect x="1004.13" y="748.8" width="16.1" height="227.7" stroke-width="2.4" fill="#fff"/>
<rect x="1027.43" y="731.6" width="18.4" height="244.9" fill="#1a1a1a" stroke="none"/>
<line x1="1077.8" y1="917.25" x2="1077.8" y2="914.75" stroke-width="2.5"/>
<line x1="1073.6" y1="914.75" x2="1082" y2="914.75" stroke-width="2.6" stroke-linecap="round"/>
<line x1="1102.25" y1="906" x2="1102.25" y2="903" stroke-width="2.5"/>
<line x1="1098.05" y1="903" x2="1106.45" y2="903" stroke-width="2.6" stroke-linecap="round"/>
<rect x="1069.75" y="918.45" width="16.1" height="58.05" stroke-width="2.4" fill="#fff"/>
<rect x="1093.05" y="906" width="18.4" height="70.5" fill="#1a1a1a" stroke="none"/>
<rect x="1134.17" y="972.8" width="18.5" height="3.7" rx="3" ry="2" fill="#1a1a1a" stroke="none"/>
<rect x="1158.67" y="972.7" width="18.4" height="3.8" rx="3" ry="2" fill="#1a1a1a" stroke="none"/>
<line x1="1209.04" y1="963.5" x2="1209.04" y2="962.8" stroke-width="2.5"/>
<line x1="1204.84" y1="962.8" x2="1213.24" y2="962.8" stroke-width="2.6" stroke-linecap="round"/>
<line x1="1233.49" y1="962.3" x2="1233.49" y2="961.5" stroke-width="2.5"/>
<line x1="1229.29" y1="961.5" x2="1237.69" y2="961.5" stroke-width="2.6" stroke-linecap="round"/>
<rect x="1200.99" y="964.7" width="16.1" height="11.8" stroke-width="2.4" fill="#fff"/>
<rect x="1224.29" y="962.3" width="18.4" height="14.2" fill="#1a1a1a" stroke="none"/>
<rect x="752.8" y="643.1" width="37.9" height="15.9" stroke-width="2.4" fill="#fff" stroke-linejoin="round"/>
<rect x="751.6" y="682.2" width="40.3" height="18.5" rx="1.3" fill="#1a1a1a" stroke="none"/>
<polyline points="1359.05,625.6 1369.65,625.6 1369.65,976.5" stroke-width="2.7" fill="none"/>
<line x1="1359.05" y1="918.02" x2="1369.65" y2="918.02" stroke-width="2.6"/>
<line x1="1359.05" y1="859.53" x2="1369.65" y2="859.53" stroke-width="2.6"/>
<line x1="1359.05" y1="801.05" x2="1369.65" y2="801.05" stroke-width="2.6"/>
<line x1="1359.05" y1="742.57" x2="1369.65" y2="742.57" stroke-width="2.6"/>
<line x1="1359.05" y1="684.08" x2="1369.65" y2="684.08" stroke-width="2.6"/>
<line x1="1359.05" y1="976.5" x2="1896.8" y2="976.5" stroke-width="2.7"/>
<line x1="1402.5" y1="976.5" x2="1402.5" y2="987.25" stroke-width="2.6"/>
<line x1="1468.23" y1="976.5" x2="1468.23" y2="987.25" stroke-width="2.6"/>
<line x1="1533.96" y1="976.5" x2="1533.96" y2="987.25" stroke-width="2.6"/>
<line x1="1599.69" y1="976.5" x2="1599.69" y2="987.25" stroke-width="2.6"/>
<line x1="1665.42" y1="976.5" x2="1665.42" y2="987.25" stroke-width="2.6"/>
<line x1="1731.15" y1="976.5" x2="1731.15" y2="987.25" stroke-width="2.6"/>
<line x1="1796.88" y1="976.5" x2="1796.88" y2="987.25" stroke-width="2.6"/>
<line x1="1862.61" y1="976.5" x2="1862.61" y2="987.25" stroke-width="2.6"/>
<line x1="1390.45" y1="871" x2="1390.45" y2="856.5" stroke-width="2.5"/>
<line x1="1386.25" y1="856.5" x2="1394.65" y2="856.5" stroke-width="2.6" stroke-linecap="round"/>
<line x1="1414.9" y1="833" x2="1414.9" y2="832" stroke-width="2.5"/>
<line x1="1410.7" y1="832" x2="1419.1" y2="832" stroke-width="2.6" stroke-linecap="round"/>
<rect x="1382.4" y="872.2" width="16.1" height="104.3" stroke-width="2.4" fill="#fff"/>
<rect x="1405.7" y="833" width="18.4" height="143.5" fill="#1a1a1a" stroke="none"/>
<line x1="1456.18" y1="950" x2="1456.18" y2="929" stroke-width="2.5"/>
<line x1="1451.98" y1="929" x2="1460.38" y2="929" stroke-width="2.6" stroke-linecap="round"/>
<rect x="1448.13" y="951.2" width="16.1" height="25.3" stroke-width="2.4" fill="#fff"/>
<rect x="1471.43" y="972.8" width="18.4" height="3.7" rx="3" ry="2" fill="#1a1a1a" stroke="none"/>
<line x1="1521.91" y1="949.25" x2="1521.91" y2="947" stroke-width="2.5"/>
<line x1="1517.71" y1="947" x2="1526.11" y2="947" stroke-width="2.6" stroke-linecap="round"/>
<line x1="1546.36" y1="927.5" x2="1546.36" y2="921" stroke-width="2.5"/>
<line x1="1542.16" y1="921" x2="1550.56" y2="921" stroke-width="2.6" stroke-linecap="round"/>
<rect x="1513.86" y="950.45" width="16.1" height="26.05" stroke-width="2.4" fill="#fff"/>
<rect x="1537.16" y="927.5" width="18.4" height="49" fill="#1a1a1a" stroke="none"/>
<line x1="1587.64" y1="924.75" x2="1587.64" y2="922.75" stroke-width="2.5"/>
<line x1="1583.44" y1="922.75" x2="1591.84" y2="922.75" stroke-width="2.6" stroke-linecap="round"/>
<line x1="1612.09" y1="923.75" x2="1612.09" y2="922.25" stroke-width="2.5"/>
<line x1="1607.89" y1="922.25" x2="1616.29" y2="922.25" stroke-width="2.6" stroke-linecap="round"/>
<rect x="1579.59" y="925.95" width="16.1" height="50.55" stroke-width="2.4" fill="#fff"/>
<rect x="1602.89" y="923.75" width="18.4" height="52.75" fill="#1a1a1a" stroke="none"/>
<line x1="1653.37" y1="744.2" x2="1653.37" y2="726.9" stroke-width="2.5"/>
<line x1="1649.17" y1="726.9" x2="1657.57" y2="726.9" stroke-width="2.6" stroke-linecap="round"/>
<line x1="1677.82" y1="711" x2="1677.82" y2="701.3" stroke-width="2.5"/>
<line x1="1673.62" y1="701.3" x2="1682.02" y2="701.3" stroke-width="2.6" stroke-linecap="round"/>
<rect x="1645.32" y="745.4" width="16.1" height="231.1" stroke-width="2.4" fill="#fff"/>
<rect x="1668.62" y="711" width="18.4" height="265.5" fill="#1a1a1a" stroke="none"/>
<line x1="1719.1" y1="829.7" x2="1719.1" y2="806.3" stroke-width="2.5"/>
<line x1="1714.9" y1="806.3" x2="1723.3" y2="806.3" stroke-width="2.6" stroke-linecap="round"/>
<line x1="1743.55" y1="911" x2="1743.55" y2="908.6" stroke-width="2.5"/>
<line x1="1739.35" y1="908.6" x2="1747.75" y2="908.6" stroke-width="2.6" stroke-linecap="round"/>
<rect x="1711.05" y="830.9" width="16.1" height="145.6" stroke-width="2.4" fill="#fff"/>
<rect x="1734.35" y="911" width="18.4" height="65.5" fill="#1a1a1a" stroke="none"/>
<rect x="1775.58" y="972.9" width="18.5" height="3.6" rx="3" ry="2" fill="#1a1a1a" stroke="none"/>
<rect x="1800.08" y="972.7" width="18.4" height="3.8" rx="3" ry="2" fill="#1a1a1a" stroke="none"/>
<line x1="1850.56" y1="964.4" x2="1850.56" y2="963.5" stroke-width="2.5"/>
<line x1="1846.36" y1="963.5" x2="1854.76" y2="963.5" stroke-width="2.6" stroke-linecap="round"/>
<line x1="1875.01" y1="955.8" x2="1875.01" y2="953.8" stroke-width="2.5"/>
<line x1="1870.81" y1="953.8" x2="1879.21" y2="953.8" stroke-width="2.6" stroke-linecap="round"/>
<rect x="1842.51" y="965.6" width="16.1" height="10.9" stroke-width="2.4" fill="#fff"/>
<rect x="1865.81" y="955.8" width="18.4" height="20.7" fill="#1a1a1a" stroke="none"/>
<rect x="1392.3" y="644.6" width="37.4" height="15.8" stroke-width="2.4" fill="#fff" stroke-linejoin="round"/>
<rect x="1391.1" y="684.2" width="39.8" height="18.2" rx="1.3" fill="#1a1a1a" stroke="none"/>
<polyline points="1713.3,787.1 1713.3,777.6 1752,777.6 1752,787.1" stroke-width="2.6" fill="none" stroke-linecap="round" stroke-linejoin="miter"/>
</g>
</svg>
</body></html>
